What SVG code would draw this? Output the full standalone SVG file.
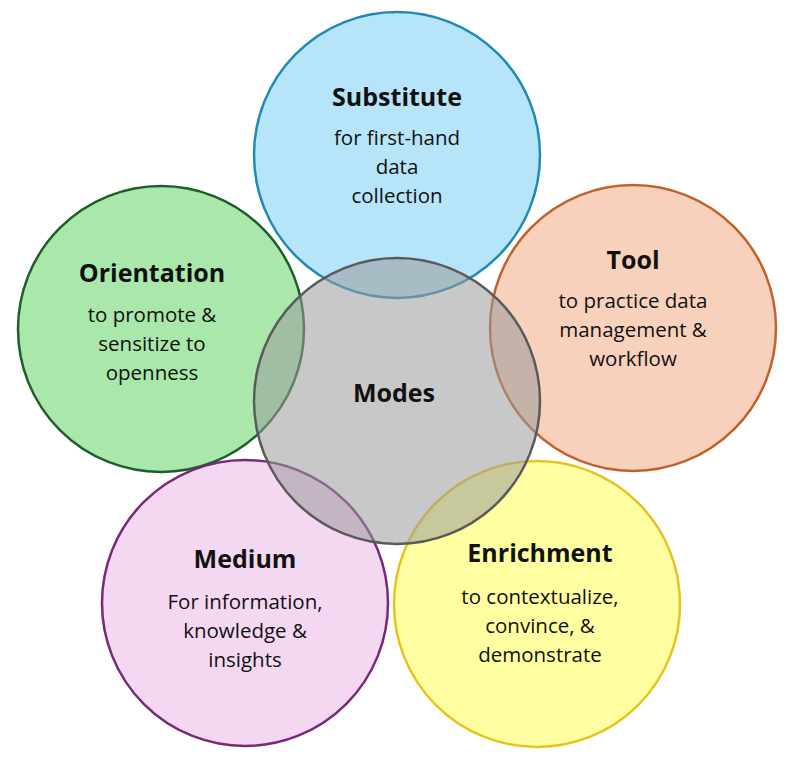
<svg xmlns="http://www.w3.org/2000/svg" width="800" height="759" viewBox="0 0 800 759">
<style>
circle{stroke-width:2.5}
text{font-family:"Open Sans","Liberation Sans",sans-serif;text-anchor:middle;fill:#111}
.t{font-weight:bold;font-size:25px}
.b{font-size:20.5px}
</style>
<rect width="800" height="759" fill="#fff"/>
<g id="substitute"><circle cx="397" cy="155" r="143" fill="#b6e4f8" stroke="#1f8ab4"/>
<text class="t" x="397" y="106">Substitute</text><text class="b" x="397" y="145">for first-hand</text><text class="b" x="397" y="174">data</text><text class="b" x="397" y="203">collection</text></g>
<g id="orientation"><circle cx="161" cy="329" r="143" fill="#a9e7aa" stroke="#1e5e2a"/>
<text class="t" x="152" y="282">Orientation</text><text class="b" x="152" y="322">to promote &amp;</text><text class="b" x="152" y="351">sensitize to</text><text class="b" x="152" y="380">openness</text></g>
<g id="tool"><circle cx="633" cy="328" r="143" fill="#f8d1bd" stroke="#c0622b"/>
<text class="t" x="633" y="269">Tool</text><text class="b" x="633" y="308">to practice data</text><text class="b" x="633" y="337">management &amp;</text><text class="b" x="633" y="366">workflow</text></g>
<g id="medium"><circle cx="245" cy="603" r="143" fill="#f4d7f1" stroke="#772a78"/>
<text class="t" x="245" y="568">Medium</text><text class="b" x="245" y="609">For information,</text><text class="b" x="245" y="638">knowledge &amp;</text><text class="b" x="245" y="667">insights</text></g>
<g id="enrichment"><circle cx="537" cy="604" r="143" fill="#ffffa1" stroke="#e8c31f"/>
<text class="t" x="540" y="562">Enrichment</text><text class="b" x="540" y="604">to contextualize,</text><text class="b" x="540" y="633">convince, &amp;</text><text class="b" x="540" y="662">demonstrate</text></g>
<g id="modes"><circle cx="397" cy="401" r="143" fill="#9a9a9a" fill-opacity="0.55" stroke="#5a5a5a"/>
<text class="t" x="394" y="402">Modes</text></g>
<g id="connectors"/>
</svg>
